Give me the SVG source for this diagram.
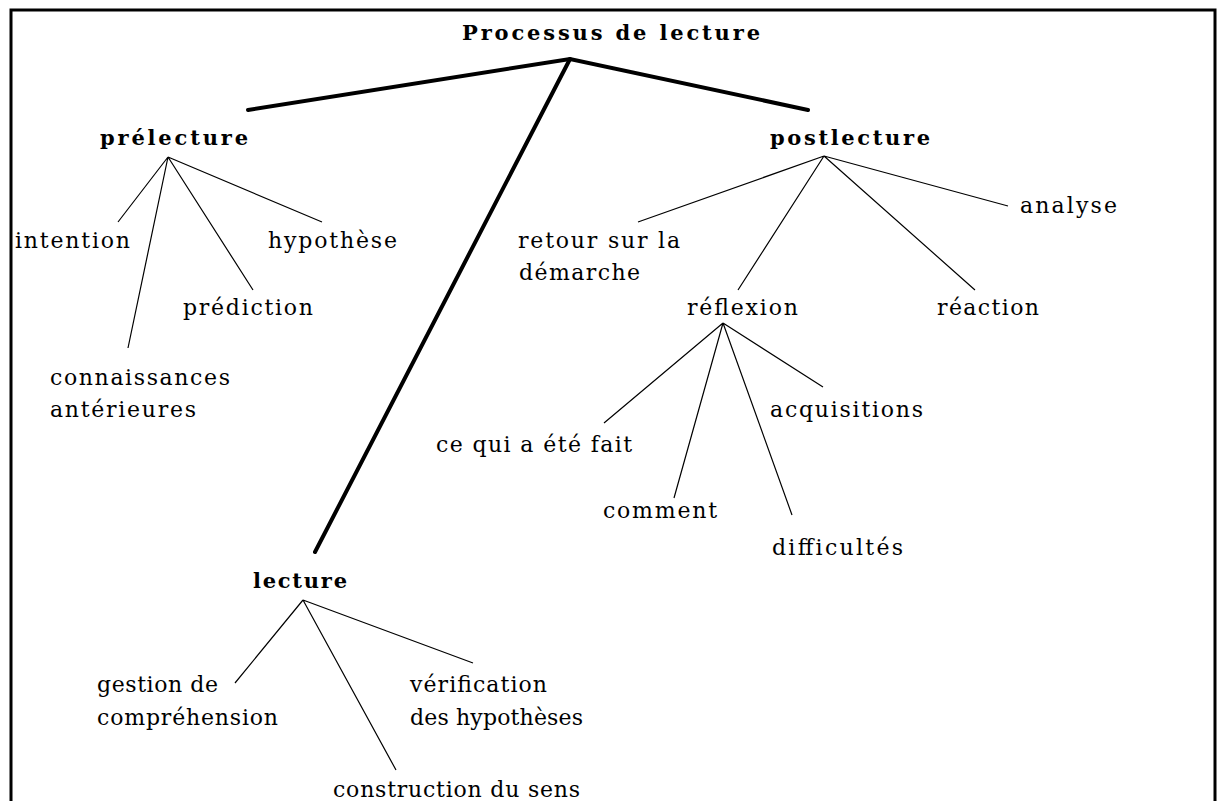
<svg xmlns="http://www.w3.org/2000/svg" width="1222" height="801" viewBox="0 0 1222 801">
<style>
.t{font-family:"DejaVu Serif","Liberation Serif",serif;font-size:22px;fill:#000}
.b{font-family:"DejaVu Serif","Liberation Serif",serif;font-size:21px;font-weight:bold;fill:#000}
.thick{stroke:#000;stroke-width:4;fill:none;stroke-linecap:round}
.thin{stroke:#000;stroke-width:1.2;fill:none}
</style>
<rect x="0" y="0" width="1222" height="801" fill="#fff"/>
<rect x="11" y="10" width="1204" height="820" fill="none" stroke="#000" stroke-width="3"/>
<g id="connectors">
<path class="thick" d="M248,110 L570,59 L808,110"/>
<path class="thick" d="M570,59 L315,552"/>
<path class="thin" d="M168,157 L118,222 M168,157 L128,348 M168,157 L253,290 M168,157 L322,222"/>
<path class="thin" d="M824,156 L638,222 M824,156 L738,290 M824,156 L975,290 M824,156 L1008,206"/>
<path class="thin" d="M723,323 L604,423 M723,323 L674,498 M723,323 L792,515 M723,323 L823,387"/>
<path class="thin" d="M303,600 L235,683 M303,600 L396,770 M303,600 L473,663"/>
</g>
<g id="root"><text class="b" x="462" y="40" textLength="298" lengthAdjust="spacing">Processus de lecture</text></g>
<g id="prelecture"><text class="b" x="100" y="145" textLength="148" lengthAdjust="spacing">prélecture</text></g>
<g id="postlecture"><text class="b" x="770" y="145" textLength="160" lengthAdjust="spacing">postlecture</text></g>
<g id="lecture"><text class="b" x="253" y="588" textLength="94" lengthAdjust="spacing">lecture</text></g>
<g id="intention"><text class="t" x="15" y="248" textLength="115" lengthAdjust="spacing">intention</text></g>
<g id="hypothese"><text class="t" x="268" y="248" textLength="129" lengthAdjust="spacing">hypothèse</text></g>
<g id="prediction"><text class="t" x="183" y="315" textLength="130" lengthAdjust="spacing">prédiction</text></g>
<g id="connaissances"><text class="t" x="50" y="385" textLength="180" lengthAdjust="spacing">connaissances</text><text class="t" x="50" y="417" textLength="146" lengthAdjust="spacing">antérieures</text></g>
<g id="retour"><text class="t" x="518" y="248" textLength="162" lengthAdjust="spacing">retour sur la</text><text class="t" x="519" y="280" textLength="121" lengthAdjust="spacing">démarche</text></g>
<g id="reflexion"><text class="t" x="687" y="315" textLength="111" lengthAdjust="spacing">réflexion</text></g>
<g id="reaction"><text class="t" x="937" y="315" textLength="102" lengthAdjust="spacing">réaction</text></g>
<g id="analyse"><text class="t" x="1020" y="213" textLength="97" lengthAdjust="spacing">analyse</text></g>
<g id="fait"><text class="t" x="436" y="452" textLength="196" lengthAdjust="spacing">ce qui a été fait</text></g>
<g id="acquisitions"><text class="t" x="770" y="417" textLength="153" lengthAdjust="spacing">acquisitions</text></g>
<g id="comment"><text class="t" x="603" y="518" textLength="114" lengthAdjust="spacing">comment</text></g>
<g id="difficultes"><text class="t" x="772" y="555" textLength="131" lengthAdjust="spacing">difficultés</text></g>
<g id="gestion"><text class="t" x="97" y="692" textLength="121" lengthAdjust="spacing">gestion de</text><text class="t" x="97" y="725" textLength="181" lengthAdjust="spacing">compréhension</text></g>
<g id="verification"><text class="t" x="410" y="692" textLength="137" lengthAdjust="spacing">vérification</text><text class="t" x="410" y="725" textLength="173" lengthAdjust="spacing">des hypothèses</text></g>
<g id="construction"><text class="t" x="333" y="797" textLength="247" lengthAdjust="spacing">construction du sens</text></g>
</svg>
